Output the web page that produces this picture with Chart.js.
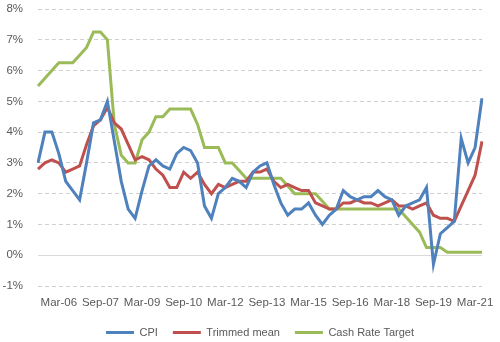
<!DOCTYPE html>
<html>
<head>
<meta charset="utf-8">
<script src="https://cdn.jsdelivr.net/npm/chart.js@4/dist/chart.umd.min.js"></script>
<style>
  html, body { margin: 0; padding: 0; background: #fff; }
  #wrap { width: 500px; height: 342px; }
</style>
</head>
<body>
<div id="wrap"><canvas id="myChart"></canvas></div>
<script>
// quarters (category axis), one label per data point
var quarters = ['Jun-05', 'Sep-05', 'Dec-05', 'Mar-06', 'Jun-06', 'Sep-06', 'Dec-06', 'Mar-07',
    'Jun-07', 'Sep-07', 'Dec-07', 'Mar-08', 'Jun-08', 'Sep-08', 'Dec-08', 'Mar-09',
    'Jun-09', 'Sep-09', 'Dec-09', 'Mar-10', 'Jun-10', 'Sep-10', 'Dec-10', 'Mar-11',
    'Jun-11', 'Sep-11', 'Dec-11', 'Mar-12', 'Jun-12', 'Sep-12', 'Dec-12', 'Mar-13',
    'Jun-13', 'Sep-13', 'Dec-13', 'Mar-14', 'Jun-14', 'Sep-14', 'Dec-14', 'Mar-15',
    'Jun-15', 'Sep-15', 'Dec-15', 'Mar-16', 'Jun-16', 'Sep-16', 'Dec-16', 'Mar-17',
    'Jun-17', 'Sep-17', 'Dec-17', 'Mar-18', 'Jun-18', 'Sep-18', 'Dec-18', 'Mar-19',
    'Jun-19', 'Sep-19', 'Dec-19', 'Mar-20', 'Jun-20', 'Sep-20', 'Dec-20', 'Mar-21',
    'Jun-21'];

// only these categories get a label on the x axis
var tickLabels = ['Mar-06', 'Sep-07', 'Mar-09', 'Sep-10', 'Mar-12', 'Sep-13',
    'Mar-15', 'Sep-16', 'Mar-18', 'Sep-19', 'Mar-21'];

var cpi = [3.0, 4.0, 4.0, 3.3, 2.4, 2.1, 1.8, 3.0, 4.3, 4.4, 5.0, 3.7, 2.4, 1.5, 1.2, 2.1,
    2.9, 3.1, 2.9, 2.8, 3.3, 3.5, 3.4, 3.0, 1.6, 1.2, 2.0, 2.2, 2.5, 2.4, 2.2, 2.7,
    2.9, 3.0, 2.3, 1.7, 1.3, 1.5, 1.5, 1.7, 1.3, 1.0, 1.3, 1.5, 2.1, 1.9, 1.8, 1.9,
    1.9, 2.1, 1.9, 1.8, 1.3, 1.6, 1.7, 1.8, 2.2, -0.3, 0.7, 0.9, 1.1, 3.8, 3.0, 3.5,
    5.1];

var trimmedMean = [2.8, 3.0, 3.1, 3.0, 2.7, 2.8, 2.9, 3.6, 4.2, 4.4, 4.8, 4.3, 4.1, 3.6, 3.1, 3.2,
    3.1, 2.8, 2.6, 2.2, 2.2, 2.7, 2.5, 2.7, 2.3, 2.0, 2.3, 2.2, 2.3, 2.4, 2.4, 2.7,
    2.7, 2.8, 2.4, 2.2, 2.3, 2.2, 2.1, 2.1, 1.7, 1.6, 1.5, 1.5, 1.7, 1.7, 1.8, 1.7,
    1.7, 1.6, 1.7, 1.8, 1.6, 1.6, 1.5, 1.6, 1.7, 1.3, 1.2, 1.2, 1.1, 1.6, 2.1, 2.6,
    3.7];

var cashRate = [5.5, 5.75, 6.0, 6.25, 6.25, 6.25, 6.5, 6.75, 7.25, 7.25, 7.0, 4.25, 3.25, 3.0, 3.0, 3.75,
    4.0, 4.5, 4.5, 4.75, 4.75, 4.75, 4.75, 4.25, 3.5, 3.5, 3.5, 3.0, 3.0, 2.75, 2.5, 2.5,
    2.5, 2.5, 2.5, 2.5, 2.25, 2.0, 2.0, 2.0, 2.0, 1.75, 1.5, 1.5, 1.5, 1.5, 1.5, 1.5,
    1.5, 1.5, 1.5, 1.5, 1.5, 1.25, 1.0, 0.75, 0.25, 0.25, 0.25, 0.1, 0.1, 0.1, 0.1, 0.1,
    0.1];

var textColor = '#595959';
var fontName = "'Liberation Sans', Arial, sans-serif";

function lijn(label, data, kleur) {
    return {
        label: label,
        data: data,
        borderColor: kleur,
        backgroundColor: kleur,
        borderWidth: 3,
        pointRadius: 0,
        pointHoverRadius: 0,
        tension: 0,
        fill: false
    };
}

var ctx = document.getElementById('myChart');
var myChart = new Chart(ctx, {
    type: 'line',
    data: {
        labels: quarters,
        datasets: [
            lijn('CPI', cpi, '#4F81BD'),
            lijn('Trimmed mean', trimmedMean, '#C0504D'),
            lijn('Cash Rate Target', cashRate, '#9BBB59')
        ]
    },
    options: {
        responsive: true,
        maintainAspectRatio: false,
        animation: false,
        layout: { padding: { top: 9, right: 18, bottom: -6, left: 0 } },
        plugins: {
            tooltip: { enabled: false },
            legend: {
                position: 'bottom',
                fullSize: false,
                labels: {
                    usePointStyle: true,
                    pointStyle: 'line',
                    pointStyleWidth: 28,
                    padding: 15,
                    color: textColor,
                    font: { family: fontName, size: 11 }
                }
            }
        },
        scales: {
            x: {
                grid: { display: false, drawTicks: false },
                border: { display: false },
                afterFit: function (scale) { scale.height = 26; },
                ticks: {
                    autoSkip: false,
                    maxRotation: 0,
                    minRotation: 0,
                    padding: 10,
                    color: textColor,
                    font: { family: fontName, size: 11.5 },
                    callback: function (value, index) {
                        if (index >= 3 && (index - 3) % 6 === 0) {
                            return tickLabels[(index - 3) / 6];
                        }
                        return '';
                    }
                }
            },
            y: {
                min: -1,
                max: 8,
                afterFit: function (scale) {
                    scale.width = 38;
                    scale.paddingTop = 0;
                    scale.paddingBottom = 0;
                },
                grid: {
                    drawTicks: false,
                    color: function (c) { return c.tick.value === 0 ? '#d9d9d9' : '#d0d0d0'; },
                    lineWidth: 1
                },
                border: {
                    display: false,
                    dash: function (c) { return c.tick && c.tick.value === 0 ? [] : [4, 3]; }
                },
                ticks: {
                    stepSize: 1,
                    padding: 15,
                    color: textColor,
                    font: { family: fontName, size: 11.5 },
                    callback: function (v) { return v + '%'; }
                }
            }
        }
    }
});
</script>
</body>
</html>
